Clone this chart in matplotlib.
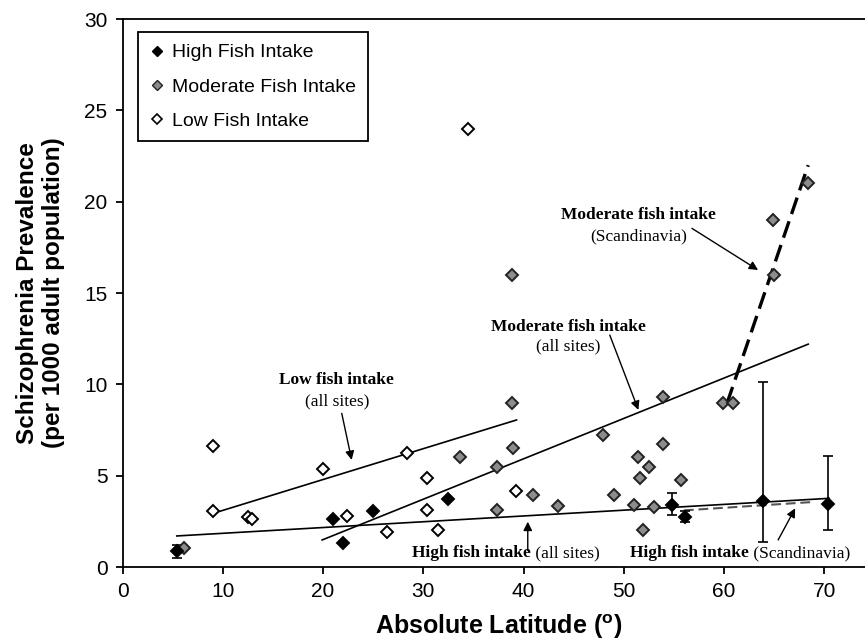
import numpy as np
import matplotlib
matplotlib.use("Agg")
import matplotlib.pyplot as plt
from matplotlib.lines import Line2D

plt.rcParams["font.family"] = ["Liberation Sans", "DejaVu Sans"]

# high fish intake sites (latitude, prevalence, error bar down/up)
high_lat = [5.4, 21.0, 22.0, 25.0, 32.5, 54.8, 56.1, 63.9, 70.4]
high_prev = [0.85, 2.65, 1.3, 3.05, 3.7, 3.4, 2.75, 3.6, 3.45]
high_err_lo = [0.33, 0, 0, 0, 0, 0.55, 0.3, 2.25, 1.4]
high_err_hi = [0.33, 0, 0, 0, 0, 0.65, 0.3, 6.55, 2.6]

# moderate fish intake sites
mod_lat = [6.15, 33.65, 37.4, 37.4, 38.85, 38.95, 38.85, 40.95, 43.45, 47.95,
           49.0, 51.0, 51.45, 51.6, 51.9, 52.5, 53.0, 53.95, 53.95, 55.7,
           59.9, 60.9, 65.0, 64.9, 68.4]
mod_prev = [1.05, 6.0, 5.45, 3.1, 9.0, 6.5, 16.0, 3.95, 3.35, 7.2,
            3.95, 3.4, 6.0, 4.85, 2.05, 5.45, 3.3, 9.3, 6.75, 4.75,
            9.0, 9.0, 16.0, 19.0, 21.0]

# low fish intake sites
low_lat = [9.0, 9.0, 12.55, 12.95, 20.0, 22.4, 26.4, 28.4, 30.4, 30.4,
           31.5, 34.5, 39.2]
low_prev = [6.6, 3.05, 2.75, 2.65, 5.35, 2.8, 1.9, 6.25, 4.85, 3.1,
            2.05, 24.0, 4.15]

# fitted trend lines (end points)
low_fit_x = [9.4, 39.3]
low_fit_y = [3.0, 8.05]
mod_fit_x = [19.9, 68.4]
mod_fit_y = [1.48, 12.2]
high_fit_x = [5.4, 70.5]
high_fit_y = [1.7, 3.76]
mod_scan_x = [60.3, 68.4]
mod_scan_y = [8.96, 22.0]
high_scan_x = [56.0, 68.6]
high_scan_y = [3.1, 3.55]

serif = "Liberation Serif"

fig = plt.figure(figsize=(8.65, 6.42), dpi=100)
ax = fig.add_axes([0.1418, 0.1168, 0.869, 0.8536])
ax.set_xlim(0, 75)
ax.set_ylim(0, 30)
ax.spines["right"].set_visible(False)
for s in ["left", "bottom", "top"]:
    ax.spines[s].set_linewidth(1.3)

# trend lines
ax.plot(low_fit_x, low_fit_y, color="black", lw=1.2, zorder=2)
ax.plot(mod_fit_x, mod_fit_y, color="black", lw=1.2, zorder=2)
ax.plot(high_fit_x, high_fit_y, color="black", lw=1.2, zorder=2)
ax.plot(mod_scan_x, mod_scan_y, color="black", lw=2.4, dashes=(5.2, 2.3), zorder=2)
ax.plot(high_scan_x, high_scan_y, color="#555555", lw=1.5, dashes=(4.7, 2.3), zorder=2)

# error bars on high intake sites
hl = np.array(high_lat)
hp = np.array(high_prev)
lo = np.array(high_err_lo)
hi = np.array(high_err_hi)
m = (lo > 0) | (hi > 0)
ax.errorbar(hl[m], hp[m], yerr=[lo[m], hi[m]], fmt="none", ecolor="black",
            elinewidth=1.2, capsize=3.4, capthick=1.2, zorder=3)

ms = 6.3
ax.plot(low_lat, low_prev, "D", ms=ms, mfc="white", mec="black", mew=1.4, ls="none", zorder=4)
ax.plot(mod_lat, mod_prev, "D", ms=ms, mfc="#8c8c8c", mec="#222222", mew=1.4, ls="none", zorder=4)
ax.plot(high_lat, high_prev, "D", ms=ms, mfc="black", mec="black", mew=1.4, ls="none", zorder=5)

# legend
handles = [
    Line2D([], [], marker="D", ls="none", ms=5.2, mfc="black", mec="black"),
    Line2D([], [], marker="D", ls="none", ms=5.2, mfc="#8c8c8c", mec="#222222"),
    Line2D([], [], marker="D", ls="none", ms=5.2, mfc="white", mec="black", mew=1.2),
]
leg = ax.legend(handles, ["High Fish Intake", "Moderate Fish Intake", "Low Fish Intake"],
                loc="upper left", bbox_to_anchor=(0.0206, 0.976), borderaxespad=0,
                fontsize=14, handlelength=0.7, handletextpad=0.45, labelspacing=0.85,
                borderpad=0.6, fancybox=False, framealpha=1, edgecolor="black")
leg.get_frame().set_linewidth(1.3)

# annotations
arrow = dict(arrowstyle="-|>", color="black", lw=1.0, mutation_scale=13,
             shrinkA=0, shrinkB=0)

ax.text(21.36, 10.24, "Low fish intake", family=serif, fontweight="bold",
        fontsize=12.5, ha="center", va="center")
ax.text(21.36, 9.05, "(all sites)", family=serif, fontsize=12.5, ha="center", va="center")
ax.annotate("", xy=(22.85, 5.86), xytext=(21.86, 8.41), arrowprops=arrow)

ax.text(51.5, 19.27, "Moderate fish intake", family=serif, fontweight="bold",
        fontsize=12.5, ha="center", va="center")
ax.text(51.5, 18.12, "(Scandinavia)", family=serif, fontsize=12.5, ha="center", va="center")
ax.annotate("", xy=(63.4, 16.26), xytext=(56.8, 18.54), arrowprops=arrow)

ax.text(44.47, 13.15, "Moderate fish intake", family=serif, fontweight="bold",
        fontsize=12.5, ha="center", va="center")
ax.text(44.47, 12.06, "(all sites)", family=serif, fontsize=12.5, ha="center", va="center")
ax.annotate("", xy=(51.46, 8.6), xytext=(48.6, 12.7), arrowprops=arrow)

t1 = ax.text(28.84, 0.75, "High fish intake", family=serif, fontweight="bold",
             fontsize=12.5, ha="left", va="center", zorder=6)
ax.annotate(" (all sites)", xy=(1, 0), xycoords=t1, family=serif, fontsize=12.5,
            ha="left", va="bottom")
ax.annotate("", xy=(40.42, 2.48), xytext=(40.42, 0.9), arrowprops=arrow)

t2 = ax.text(50.6, 0.75, "High fish intake", family=serif, fontweight="bold",
             fontsize=12.5, ha="left", va="center", zorder=6)
ax.annotate(" (Scandinavia)", xy=(1, 0), xycoords=t2, family=serif, fontsize=12.5,
            ha="left", va="bottom")
ax.annotate("", xy=(67.1, 3.21), xytext=(65.4, 1.48), arrowprops=arrow)

# axes text
ax.set_xticks(np.arange(0, 71, 10))
ax.set_yticks(np.arange(0, 31, 5))
ax.tick_params(direction="out", length=5, width=1.3, labelsize=15, pad=6)
ax.set_xlabel(r"Absolute Latitude ($\mathregular{^o}$)", fontsize=18, fontweight="bold",
              labelpad=8)
ax.set_ylabel("Schizophrenia Prevalence\n(per 1000 adult population)", fontsize=17.5,
              fontweight="bold", linespacing=1.15)
ax.yaxis.set_label_coords(-0.077, 0.5)

fig.savefig("out.png", dpi=100)
